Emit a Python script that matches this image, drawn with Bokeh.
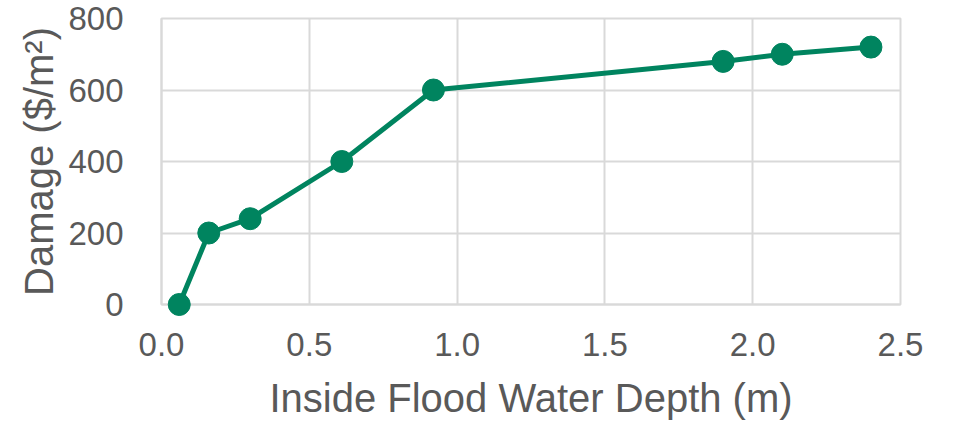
from bokeh.plotting import figure
from bokeh.models import FixedTicker, NumeralTickFormatter, Range1d
from bokeh.embed import file_html
from bokeh.resources import INLINE

depth_m = [0.06, 0.16, 0.30, 0.61, 0.92, 1.90, 2.10, 2.40]
damage = [0, 200, 240, 400, 600, 680, 700, 720]
x_ticks = [0.0, 0.5, 1.0, 1.5, 2.0, 2.5]
y_ticks = [0, 200, 400, 600, 800]

GREEN = "#00845f"
TEXT = "#595959"
GRID = "#d9d9d9"
FONT = "Liberation Sans"

p = figure(frame_width=739, frame_height=286,
           x_range=Range1d(0, 2.5), y_range=Range1d(0, 800),
           output_backend="svg", toolbar_location=None,
           min_border_left=161, min_border_right=40,
           min_border_top=18, min_border_bottom=105)

p.line(depth_m, damage, line_color=GREEN, line_width=5, level="overlay")
p.scatter(depth_m, damage, size=22, fill_color=GREEN, line_color=GREEN, level="overlay")

p.outline_line_color = GRID
p.outline_line_width = 2

for ax in (p.xaxis[0], p.yaxis[0]):
    ax.axis_line_color = GRID
    ax.axis_line_width = 2
    ax.major_tick_line_color = None
    ax.minor_tick_line_color = None
    ax.major_label_text_font = FONT
    ax.major_label_text_font_size = "33px"
    ax.major_label_text_color = TEXT
    ax.axis_label_text_font = FONT
    ax.axis_label_text_font_size = "40px"
    ax.axis_label_text_font_style = "normal"
    ax.axis_label_text_color = TEXT

p.xaxis[0].ticker = FixedTicker(ticks=x_ticks)
p.xaxis[0].formatter = NumeralTickFormatter(format="0.0")
p.xaxis[0].major_label_standoff = 22
p.xaxis[0].axis_label = "Inside Flood Water Depth (m)"
p.xaxis[0].axis_label_standoff = 17

p.yaxis[0].ticker = FixedTicker(ticks=y_ticks)
p.yaxis[0].major_label_standoff = 32
p.yaxis[0].axis_label = "Damage ($/m²)"
p.yaxis[0].axis_label_standoff = 4

p.xgrid[0].grid_line_color = GRID
p.xgrid[0].grid_line_width = 2
p.ygrid[0].grid_line_color = GRID
p.ygrid[0].grid_line_width = 2

open("out.html", "w").write(file_html(p, INLINE))
